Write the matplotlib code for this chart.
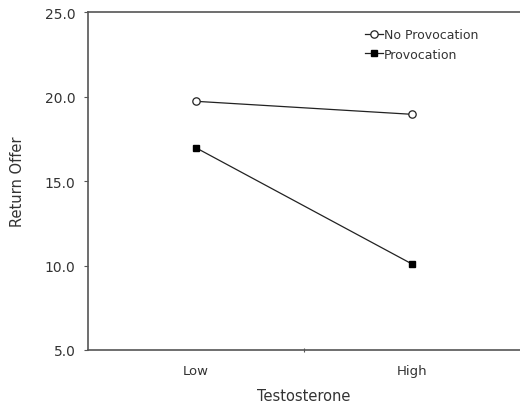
import matplotlib
matplotlib.use("Agg")
import matplotlib.pyplot as plt

# data
groups = ["Low", "High"]
no_provocation = [19.72, 18.95]
provocation = [16.97, 10.09]
xpos = [0.5, 1.5]

plt.rcParams['font.family'] = ['DejaVu Sans']
grey = "#333333"

fig = plt.figure(figsize=(5.2, 4.1), dpi=100)
ax = fig.add_axes([0.169, 0.144, 0.831, 0.824])

ax.plot(xpos, no_provocation, color="#222222", lw=0.9, marker="o", ms=5.3,
        mfc="white", mec="#222222", mew=0.9, label="No Provocation", clip_on=False)
ax.plot(xpos, provocation, color="#222222", lw=0.9, marker="s", ms=4.5,
        mfc="black", mec="black", label="Provocation", clip_on=False)

ax.set_xlim(0, 2)
ax.set_ylim(5, 25)
ax.set_yticks([5, 10, 15, 20, 25])
ax.set_yticklabels(["5.0", "10.0", "15.0", "20.0", "25.0"])

# tick mark between the groups, labels under the groups
ax.set_xticks([1])
ax.set_xticklabels([""])
ax.set_xticks(xpos, minor=True)
ax.set_xticklabels(groups, minor=True)
ax.tick_params(axis="x", which="minor", length=0, pad=10, labelsize=9.5, labelcolor=grey)
ax.tick_params(axis="x", which="major", length=3, direction="inout", color="#555555")
ax.tick_params(axis="y", length=3, direction="out", color="#555555", labelsize=10,
               labelcolor=grey, pad=6)

ax.spines["right"].set_visible(False)
for s in ["left", "top", "bottom"]:
    ax.spines[s].set_color("#555555")
    ax.spines[s].set_linewidth(1.2)

ax.set_xlabel("Testosterone", fontsize=10.5, color=grey, labelpad=8)
ax.set_ylabel("Return Offer", fontsize=10.5, color=grey, labelpad=14)

ax.legend(loc="upper right", bbox_to_anchor=(0.93, 0.985), frameon=False,
          fontsize=9, handlelength=1.4, handletextpad=0.1, labelspacing=0.5,
          labelcolor=grey)

fig.savefig("out.png", dpi=100)
